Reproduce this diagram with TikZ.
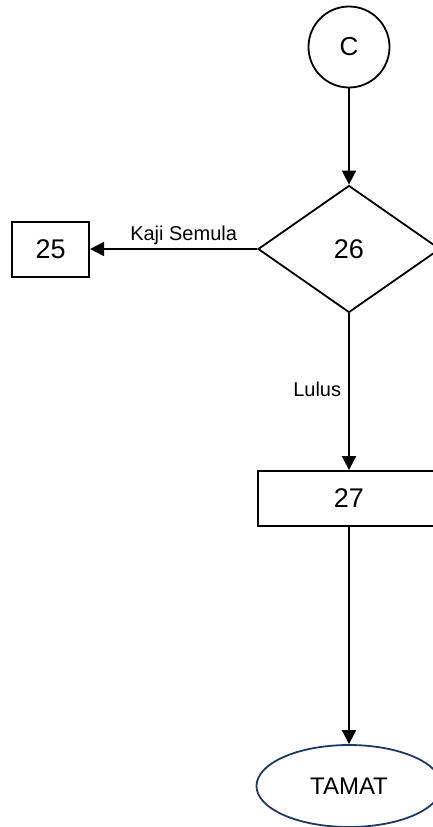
\documentclass[tikz,border=0pt]{standalone}
\usepackage{fontspec}
\setmainfont{Liberation Sans}
\usetikzlibrary{shapes.geometric,arrows.meta}
\definecolor{endblue}{RGB}{31,56,100}
\begin{document}
\begin{tikzpicture}[x=1pt,y=-1pt,
  line width=1.8pt,
  flow/.style={-{Triangle[length=14pt,width=14pt]}},
  boxnode/.style={draw,rectangle,inner sep=0pt,font=\fontsize{27}{31}\selectfont},
  decide/.style={draw,diamond,inner sep=0pt,minimum width=182pt,minimum height=127pt,font=\fontsize{27}{31}\selectfont},
  conn/.style={draw,circle,inner sep=0pt,minimum size=81pt,font=\fontsize{26}{30}\selectfont},
  term/.style={draw=endblue,ellipse,inner sep=0pt,minimum width=185pt,minimum height=82pt,font=\fontsize{24}{28}\selectfont},
  lbl/.style={font=\fontsize{20}{24}\selectfont,inner sep=3pt}]
\useasboundingbox (0,0) rectangle (433,827);
\clip (0,0) rectangle (433,827);

\node[conn] (c) at (349,47) {C};
\node[decide] (d26) at (349,249) {26};
\node[boxnode,minimum width=77pt,minimum height=55pt] (b25) at (50.7,249.5) {25};
\node[boxnode,minimum width=182pt,minimum height=55pt] (b27) at (349,498.5) {27};
\node[term] (end) at (349,786) {TAMAT};

\draw[flow] (c) -- (d26);
\draw[flow] (d26.west) -- node[lbl,pos=0.44,above] {Kaji Semula} (d26.west -| b25.east);
\draw[flow] (d26.south) -- node[lbl,pos=0.485,left,xshift=-4pt] {Lulus} (b27.north);
\draw[flow] (b27.south) -- (end.north);
\end{tikzpicture}
\end{document}
